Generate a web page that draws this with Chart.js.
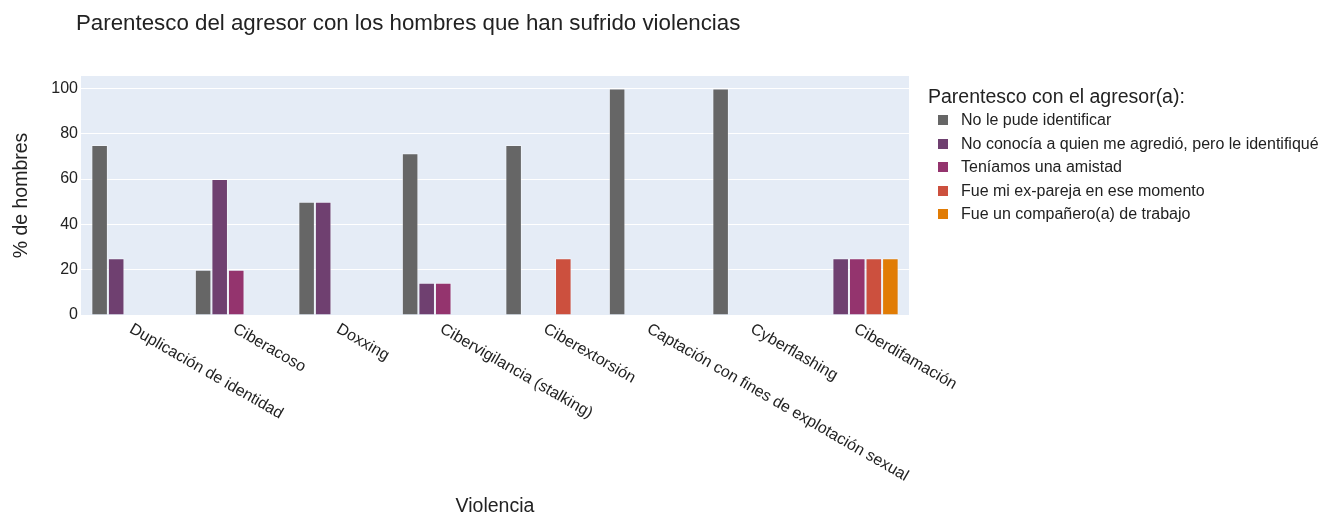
<!DOCTYPE html>
<html>
<head>
<meta charset="utf-8">
<script src="https://cdn.jsdelivr.net/npm/chart.js@4"></script>
<style>
  body { margin: 0; background: #fff; font-family: "Liberation Sans", Arial, sans-serif; }
  #wrap { position: relative; width: 1324px; height: 514px; }
  #legend { position: absolute; left: 928px; top: 84px; color: #222; }
  #legend .ttl { font-size: 19.5px; line-height: 24px; margin-bottom: 0px; }
  #legend .item { position: relative; height: 23.5px; line-height: 23.5px; font-size: 16px; padding-left: 33px; white-space: nowrap; }
  #legend .box { position: absolute; left: 10px; top: 7px; width: 10px; height: 10px; }
</style>
</head>
<body>
<div id="wrap">
  <canvas id="chart"></canvas>
  <div id="legend"></div>
</div>
<script>
const TITLE = "Parentesco del agresor con los hombres que han sufrido violencias";
const X_TITLE = "Violencia";
const Y_TITLE = "% de hombres";
const LEGEND_TITLE = "Parentesco con el agresor(a):";

const categories = [
  "Duplicación de identidad", "Ciberacoso", "Doxxing", "Cibervigilancia (stalking)",
  "Ciberextorsión", "Captación con fines de explotación sexual", "Cyberflashing", "Ciberdifamación"
];
const seriesNames = [
  "No le pude identificar",
  "No conocía a quien me agredió, pero le identifiqué",
  "Teníamos una amistad",
  "Fue mi ex-pareja en ese momento",
  "Fue un compañero(a) de trabajo"
];
const noIdentificado = [75, 20, 50, 71.43, 75, 100, 100, null];
const desconocido    = [25, 60, 50, 14.29, null, null, null, 25];
const amistad        = [null, 20, null, 14.29, null, null, null, 25];
const exPareja       = [null, null, null, null, 25, null, null, 25];
const companero      = [null, null, null, null, null, null, null, 25];
const seriesColors = ["#666666", "#6f4070", "#94346e", "#cc503e", "#e17c05"];
const yTicks = [0, 20, 40, 60, 80, 100];

const seriesValues = [noIdentificado, desconocido, amistad, exPareja, companero];
const FONT = "'Liberation Sans', Arial, sans-serif";
const TEXT = "#222";

const datasets = seriesValues.map((vals, i) => ({
  label: seriesNames[i], data: vals, backgroundColor: seriesColors[i],
  borderColor: "rgba(255,255,255,0.4)", borderWidth: 1,
  categoryPercentage: 0.8, barPercentage: 1.0
}));

// legend as html
const legend = document.getElementById("legend");
let lh = `<div class="ttl">${LEGEND_TITLE}</div>`;
seriesNames.forEach((n, i) => { lh += `<div class="item"><span class="box" style="background:${seriesColors[i]}"></span>${n}</div>`; });
legend.innerHTML = lh;

const decor = {
  id: "decor",
  beforeDraw(chart) {
    const { ctx, chartArea: a } = chart;
    ctx.save(); ctx.fillStyle = "#e5ecf6"; ctx.fillRect(a.left, a.top, a.right - a.left, a.bottom - a.top); ctx.restore();
  },
  afterDraw(chart) {
    const { ctx, chartArea: a } = chart;
    const xs = chart.scales.x;
    ctx.save();
    ctx.fillStyle = TEXT;
    ctx.font = `16px ${FONT}`;
    ctx.textAlign = "left"; ctx.textBaseline = "top";
    categories.forEach((c, i) => {
      ctx.save();
      ctx.translate(xs.getPixelForValue(i) + 2, a.bottom + 6);
      ctx.rotate(Math.PI / 6);
      ctx.fillText(c, 0, 0);
      ctx.restore();
    });
    ctx.textBaseline = "middle";
    ctx.font = `19.5px ${FONT}`;
    ctx.textAlign = "center";
    ctx.fillText(X_TITLE, (a.left + a.right) / 2, 507);
    ctx.font = `22.3px ${FONT}`;
    ctx.textAlign = "left";
    ctx.fillText(TITLE, 76, 24);
    ctx.restore();
  }
};

new Chart(document.getElementById("chart").getContext("2d"), {
  type: "bar",
  data: { labels: categories, datasets },
  options: {
    responsive: true, maintainAspectRatio: false, animation: false,
    layout: { padding: { top: 76, right: 415, bottom: 199, left: 0 } },
    plugins: { legend: { display: false }, tooltip: { enabled: false } },
    scales: {
      x: { display: false },
      y: {
        min: 0, max: 105.5,
        afterFit: s => { s.width = 81; },
        afterBuildTicks: s => { s.ticks = yTicks.map(v => ({ value: v })); },
        border: { display: false },
        grid: { color: "#ffffff", lineWidth: 1, drawTicks: false },
        ticks: { color: TEXT, font: { family: FONT, size: 16 }, padding: 3 },
        title: { display: true, text: Y_TITLE, color: TEXT, font: { family: FONT, size: 19.5 }, padding: { top: 10, bottom: 0 } }
      }
    }
  },
  plugins: [decor]
});
</script>
</body>
</html>
